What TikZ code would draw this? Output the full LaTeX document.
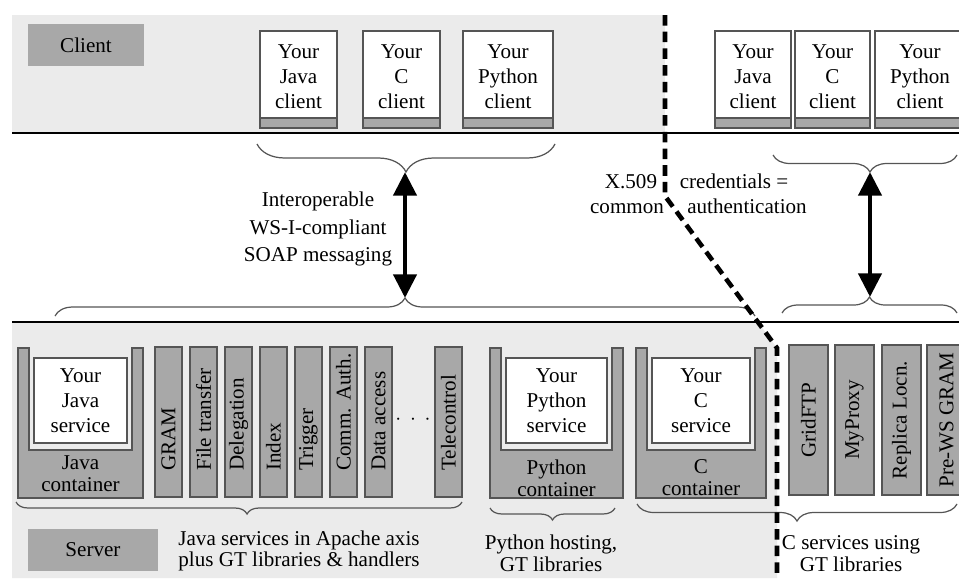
\documentclass[tikz,border=0pt]{standalone}
\usepackage{fontspec}
\setmainfont{Liberation Serif}
\usetikzlibrary{arrows.meta}
\usetikzlibrary{decorations.pathreplacing}
\definecolor{bandgrey}{HTML}{EBEBEB}
\definecolor{boxgrey}{HTML}{A8A8A8}
\definecolor{edgegrey}{HTML}{555555}
\tikzset{
    band/.style={fill=bandgrey},
    rule/.style={line width=1.7pt},
    trust/.style={line width=2.6pt, dash pattern=on 6pt off 3.5pt},
    txt/.style={align=center, inner sep=0pt, font=\fontsize{12}{14.2}\selectfont},
    tight/.style={font=\fontsize{12}{12.4}\selectfont},
    loose/.style={font=\fontsize{12}{15.4}\selectfont},
    tag/.style={fill=boxgrey, minimum width=2.32cm, minimum height=0.84cm, inner sep=0pt, font=\fontsize{12}{14}\selectfont},
    clientbox/.style={draw=edgegrey, fill=white, line width=0.8pt},
    strip/.style={draw=edgegrey, fill=boxgrey, line width=0.8pt},
    holder/.style={draw=edgegrey, fill=boxgrey, line width=0.8pt},
    column/.style={draw=edgegrey, fill=boxgrey, line width=0.8pt},
    brc/.style={decorate, draw=edgegrey, line width=0.7pt},
    soap/.style={line width=2.8pt, {Triangle[width=13pt,length=13.5pt]}-{Triangle[width=13pt,length=13.5pt]}}
}
\begin{document}
\begin{tikzpicture}[x=0.02cm, y=-0.02cm]
    \useasboundingbox (0,0) rectangle (959,578);
    \fill[band] (12,15) rectangle (665,133);
    \fill[band] (12,322) -- (758,322) -- (777,348) -- (777,578) -- (12,578) -- cycle;
    \draw[rule] (12,133) -- (959,133);
    \draw[rule] (12,322) -- (959,322);

    \node[tag] (client) at (86,45) {Client};
    \node[tag, minimum width=2.6cm] (server) at (93,550) {Server};

    % clients
    \foreach \n/\x/\w/\lang in {jl/260/77/Java, cl/363/77/C, pl/463/90/Python, jr/715/76/Java, cr/795/75/C, pr/875/90/Python} {
        \filldraw[clientbox] (\x,31) rectangle ++(\w,97);
        \filldraw[strip] (\x,118) rectangle ++(\w,10);
        \node[txt] (\n) at (\x+\w/2,77) {Your\\\lang\\client};
    }

    % containers
    \foreach \n/\x/\w/\ty/\lang in {jc/18/125/474/Java, pc/490/133/478/Python, cc/636/130/478/C} {
        \filldraw[holder] (\x,348) -- (\x,498) -- (\x+\w,498) -- (\x+\w,348) -- (\x+\w-11,348)
            -- (\x+\w-11,450) -- (\x+11,450) -- (\x+11,348) -- cycle;
        \filldraw[clientbox] (\x+16,358) rectangle (\x+\w-16,443);
        \node[txt] (\n) at (\x+\w/2,401) {Your\\\lang\\service};
        \node[txt, tight] (\n-lbl) at (\x+\w/2,\ty) {\lang\\container};
    }

    \foreach \x/\t [count=\i] in {155/GRAM, 190/File transfer, 225/Delegation, 260/Index, 295/Trigger, 330/Comm. Auth., 365/Data access, 435/Telecontrol} {
        \filldraw[column] (\x,347) rectangle ++(27,150);
        \node[txt, rotate=90, anchor=west] (gt\i) at (\x+13.5,471) {\t};
    }
    \node[txt] (more) at (413,420) {${\cdot}\hspace{5pt}{\cdot}\hspace{5pt}{\cdot}$};

    \foreach \x/\t [count=\i] in {789/GridFTP, 835/MyProxy, 882/Replica Locn., 927/Pre-WS GRAM} {
        \filldraw[column] (\x,345) rectangle ++(39,150);
        \node[txt, rotate=90] (ct\i) at (\x+19.5,420) {\t};
    }

    % braces
    \draw[brc, decoration={brace, mirror, amplitude=0.56cm}] (257,144) -- (555,144);
    \draw[brc, decoration={brace, amplitude=0.36cm}] (55,316) -- (755,316);
    \draw[brc, decoration={brace, mirror, amplitude=0.34cm, aspect=0.527}] (773,155) -- (957,155);
    \draw[brc, decoration={brace, amplitude=0.32cm}] (782,313) -- (957,313);
    \draw[brc, decoration={brace, mirror, amplitude=0.24cm, aspect=0.518}] (16,502) -- (462,502);
    \draw[brc, decoration={brace, mirror, amplitude=0.24cm}] (490,508) -- (615,508);
    \draw[brc, decoration={brace, mirror, amplitude=0.34cm}] (637,504) -- (957,504);

    \coordinate (soapTop) at (405,172);
    \coordinate (soapBot) at (405,298);
    \coordinate (rsoapTop) at (870,172);
    \coordinate (rsoapBot) at (870,297);
    \draw[soap] (soapTop) -- (soapBot);
    \draw[soap] (rsoapTop) -- (rsoapBot);

    \node[txt, loose] (interop) at (318,229) {Interoperable\\WS-I-compliant\\SOAP messaging};
    \node[txt, anchor=base] (x509) at (631,188) {X.509};
    \node[txt, anchor=base] (common) at (627,213) {common};
    \node[txt, anchor=base] (cred) at (734,188) {credentials =};
    \node[txt, anchor=base] (auth) at (747,213) {authentication};

    \node[txt, tight] (javaNote) at (299,551) {Java services in Apache axis\\plus GT libraries \& handlers};
    \node[txt, tight] (pyNote) at (551,553) {Python hosting,\\GT libraries};
    \node[txt, tight] (cNote) at (851,554) {C services using\\GT libraries};

    \draw[trust] (665,15) -- (665,196) -- (777,348) -- (777,578);
\end{tikzpicture}
\end{document}
